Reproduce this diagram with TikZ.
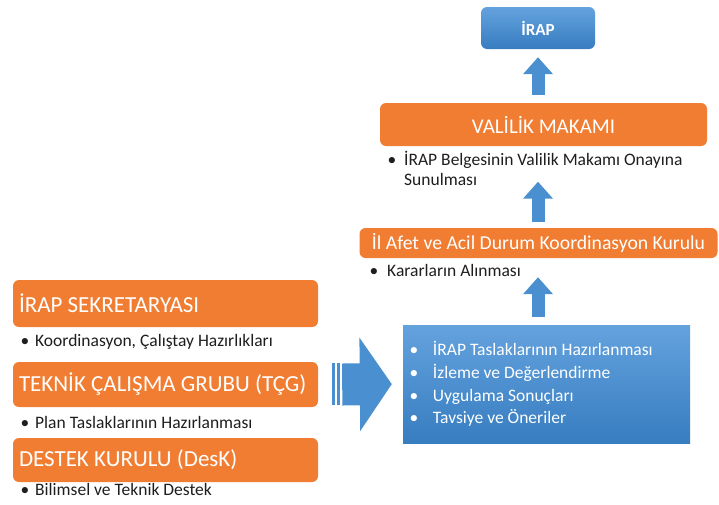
\documentclass[tikz,border=0pt]{standalone}
\usepackage{fontspec}
\setmainfont{Carlito}
\usetikzlibrary{arrows.meta}

\definecolor{turuncu}{RGB}{240,125,50}
\definecolor{okmavi}{RGB}{74,144,208}
\definecolor{mavia}{RGB}{100,162,222}
\definecolor{mavik}{RGB}{55,125,192}
\definecolor{yazi}{RGB}{30,30,30}

\newcommand{\madde}[2]{\makebox[#1][l]{\textbullet}#2}

\tikzset{
  kutu/.style={fill=turuncu, rounded corners=6pt, text=white, inner sep=0pt},
  solkutu/.style={kutu, minimum width=305pt, text width=293pt, inner xsep=6pt, align=flush left,
    font=\fontsize{23}{26}\selectfont},
  mavikutu/.style={top color=mavia, bottom color=mavik, text=white, inner sep=0pt},
  aciklama/.style={anchor=base west, inner sep=0pt, text=yazi, font=\fontsize{17.5}{19.3}\selectfont},
  yukariok/.style={draw=okmavi, line width=13pt, -{Triangle[length=17pt,width=29pt]}},
  sagok/.style={draw=okmavi, line width=42pt, -{Triangle[length=32pt,width=92pt]}}
}

\begin{document}
\begin{tikzpicture}[x=1pt, y=-1pt]
\useasboundingbox (0,0) rectangle (719,504);

\node[mavikutu, rounded corners=6pt, minimum width=114pt, minimum height=42pt,
  font=\bfseries\fontsize{17}{20}\selectfont] (irap) at (538,28) {İRAP};

\node[kutu, minimum width=327pt, minimum height=43pt, font=\fontsize{21}{25}\selectfont]
  (valilik) at (543.5,124.5) {VALİLİK MAKAMI};
\node[aciklama, align=flush left] (valnot) at (387.5,185)
  {\madde{16.5pt}{İRAP Belgesinin Valilik Makamı Onayına}\\\hspace*{16.5pt}Sunulması};

\node[kutu, minimum width=358pt, minimum height=30pt, font=\fontsize{19.7}{22}\selectfont]
  (kurul) at (538.5,243) {İl Afet ve Acil Durum Koordinasyon Kurulu};
\node[aciklama] (kurulnot) at (369.5,276) {\madde{17.5pt}{Kararların Alınması}};

\node[mavikutu, minimum width=287pt, minimum height=118pt, text width=274pt, inner xsep=6.5pt,
  align=flush left, font=\fontsize{17.5}{22.7}\selectfont] (taslak) at (546.5,384)
  {\madde{23.5pt}{İRAP Taslaklarının Hazırlanması}\\
   \madde{23.5pt}{İzleme ve Değerlendirme}\\
   \madde{23.5pt}{Uygulama Sonuçları}\\
   \madde{23.5pt}{Tavsiye ve Öneriler}};

\node[solkutu, minimum height=47pt] (sekr) at (165.5,303.5) {İRAP SEKRETARYASI};
\node[aciklama] (sekrnot) at (20.5,346) {\madde{14.5pt}{Koordinasyon, Çalıştay Hazırlıkları}};

\node[solkutu, minimum height=45pt] (tcg) at (165.5,384.5) {TEKNİK ÇALIŞMA GRUBU (TÇG)};
\node[aciklama] (tcgnot) at (20.5,428) {\madde{14.5pt}{Plan Taslaklarının Hazırlanması}};

\node[solkutu, minimum height=44pt] (desk) at (165.5,460) {DESTEK KURULU (DesK)};
\node[aciklama] (desknot) at (20.5,495) {\madde{14.5pt}{Bilimsel ve Teknik Destek}};

\draw[yukariok, shorten <=8pt, shorten >=8pt] (valilik.north -| irap.south) -- (irap.south);
\draw[yukariok, shorten <=6pt, shorten >=35.5pt] (kurul.north -| irap.south) -- (valilik.south -| irap.south);
\draw[yukariok, shorten <=8pt, shorten >=19pt] (taslak.north -| irap.south) -- (kurul.south -| irap.south);

\draw[sagok, shorten >=11pt] ([xshift=24pt]tcg.east) -- (taslak.west);
\fill[okmavi] ([xshift=14pt,yshift=22pt]tcg.east) rectangle ++(3,42);
\fill[okmavi] ([xshift=19pt,yshift=22pt]tcg.east) rectangle ++(3,42);
\end{tikzpicture}
\end{document}
